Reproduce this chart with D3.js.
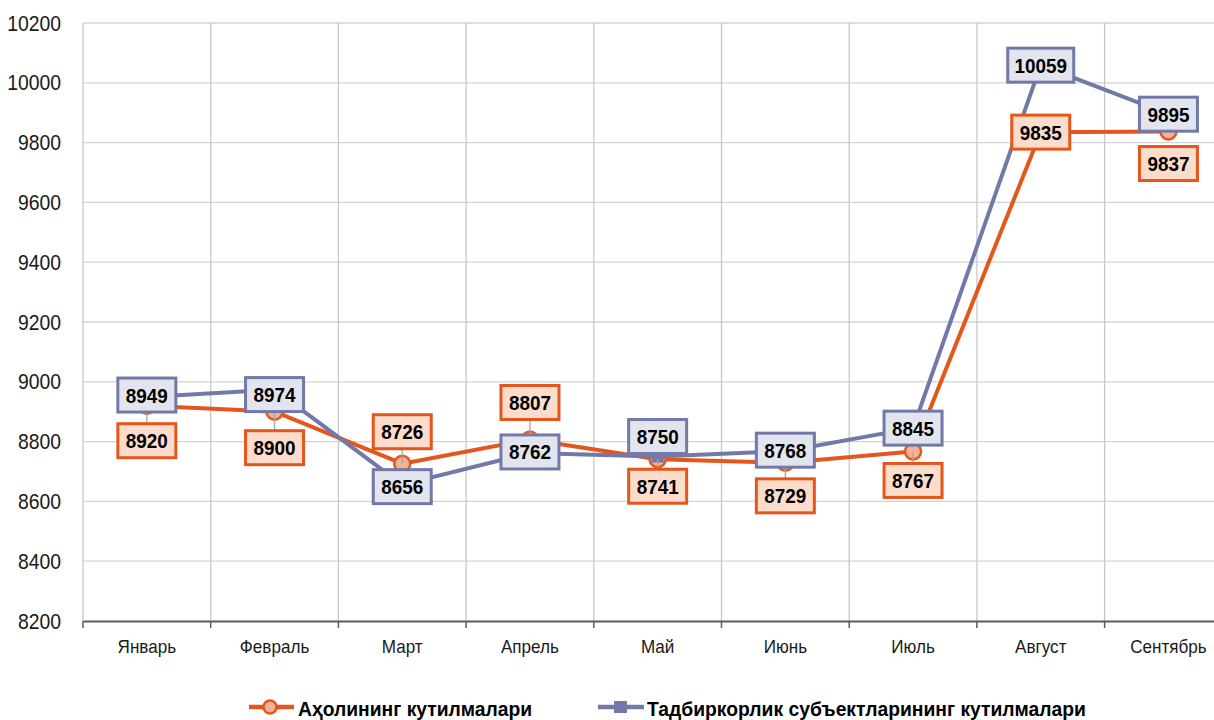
<!DOCTYPE html>
<html>
<head>
<meta charset="utf-8">
<script src="https://cdn.jsdelivr.net/npm/d3@7/dist/d3.min.js"></script>
<style>
  html, body { margin: 0; padding: 0; background: #fff; }
  svg { display: block; font-family: "Liberation Sans", Arial, sans-serif; }
</style>
</head>
<body>
<svg id="chart" width="1214" height="720"></svg>
<script>
// Months shown on the category axis
const months = ["Январь", "Февраль", "Март", "Апрель", "Май", "Июнь", "Июль", "Август", "Сентябрь"];
// Population expectations
const population = [8920, 8900, 8726, 8807, 8741, 8729, 8767, 9835, 9837];
// Business entities expectations
const business = [8949, 8974, 8656, 8762, 8750, 8768, 8845, 10059, 9895];
// Value axis ticks
const yTicks = [8200, 8400, 8600, 8800, 9000, 9200, 9400, 9600, 9800, 10000, 10200];
// Series names
const seriesNames = ["Аҳолининг кутилмалари", "Тадбиркорлик субъектларининг кутилмалари"];

// Vertical offsets (px) of the value labels from their points
const popLabelDy = [35, 36, -32, -37, 27, 33, 29, 0, 32];
const bizLabelDy = [-2, 5, 2, -1, -20, -1, 0, 0, 0];

const ORANGE = "#E5561C", ORANGE_FILL = "#FCDCCB", ORANGE_MARK = "#F5B396";
const BLUE = "#7279A8", BLUE_FILL = "#E3E5EE";

const svg = d3.select("#chart");
const plotL = 83, plotT = 23, plotB = 621, catW = 127.7;
const plotR = plotL + months.length * catW;

const x = d3.scaleBand().domain(months).range([plotL, plotR]).padding(0);
const cx = m => x(m) + x.bandwidth() / 2;
const y = d3.scaleLinear().domain([8200, 10200]).range([plotB, plotT]);

// horizontally condensed text helper
function squeeze(sel, k) {
  sel.each(function () {
    const t = d3.select(this);
    const tx = +t.attr("x") || 0, ty = +t.attr("y") || 0;
    t.attr("transform", `translate(${tx},${ty}) scale(${k},1) translate(${-tx},${-ty})`);
  });
}

// horizontal gridlines
svg.append("g").selectAll("line").data(yTicks.filter(v => v > 8200)).join("line")
  .attr("x1", plotL).attr("x2", plotR)
  .attr("y1", d => y(d)).attr("y2", d => y(d))
  .attr("stroke", "#D4D4D4").attr("stroke-width", 1.3);

// vertical gridlines at category boundaries
const bounds = months.map(m => x(m)).concat([plotR]);
svg.append("g").selectAll("line").data(bounds).join("line")
  .attr("x1", d => d).attr("x2", d => d)
  .attr("y1", plotT).attr("y2", plotB)
  .attr("stroke", "#C8C8C8").attr("stroke-width", 1.3);

// category axis
const xAxis = svg.append("g").attr("transform", `translate(0,${plotB})`)
  .call(d3.axisBottom(x).tickSize(0).tickPadding(19));
xAxis.select(".domain").attr("stroke", "#5A5A64").attr("stroke-width", 2);
const xt = xAxis.selectAll("text").attr("font-size", 18).attr("fill", "#1a1a1a")
  .attr("font-family", "'Liberation Sans', Arial, sans-serif");
squeeze(xt, 0.95);
svg.append("g").selectAll("line").data(bounds).join("line")
  .attr("x1", d => d).attr("x2", d => d)
  .attr("y1", plotB).attr("y2", plotB + 7)
  .attr("stroke", "#5A5A64").attr("stroke-width", 1.5);

// value axis labels
const yAxis = svg.append("g").attr("transform", `translate(${plotL},0)`)
  .call(d3.axisLeft(y).tickValues(yTicks).tickSize(0).tickPadding(22).tickFormat(d3.format("d")));
yAxis.select(".domain").remove();
const yt = yAxis.selectAll("text").attr("font-size", 22).attr("fill", "#1a1a1a")
  .attr("font-family", "'Liberation Sans', Arial, sans-serif");
squeeze(yt, 0.88);

const line = d3.line().x((d, i) => cx(months[i])).y(d => y(d));

// population series
svg.append("path").datum(population).attr("d", line)
  .attr("fill", "none").attr("stroke", ORANGE).attr("stroke-width", 4).attr("stroke-linejoin", "round");
svg.append("g").selectAll("circle").data(population).join("circle")
  .attr("cx", (d, i) => cx(months[i])).attr("cy", d => y(d)).attr("r", 8)
  .attr("fill", ORANGE_MARK).attr("stroke", ORANGE).attr("stroke-width", 2.5);

// business series
svg.append("path").datum(business).attr("d", line)
  .attr("fill", "none").attr("stroke", BLUE).attr("stroke-width", 4).attr("stroke-linejoin", "round");
svg.append("g").selectAll("rect").data(business).join("rect")
  .attr("x", (d, i) => cx(months[i]) - 6).attr("y", d => y(d) - 6)
  .attr("width", 12).attr("height", 12).attr("fill", BLUE);

// data labels
const boxH = 34;
function boxW(v) { return String(v).length > 4 ? 66 : 58; }

// leader lines for offset labels
function leaders(values, dys) {
  svg.append("g").selectAll("line").data(values).join("line")
    .filter((d, i) => Math.abs(dys[i]) > boxH / 2)
    .attr("x1", (d, i) => cx(months[i])).attr("x2", (d, i) => cx(months[i]))
    .attr("y1", d => y(d))
    .attr("y2", (d, i) => y(d) + dys[i])
    .attr("stroke", "#A6A6A6").attr("stroke-width", 1.3);
}
leaders(population, popLabelDy);
leaders(business, bizLabelDy);

function drawLabels(values, dys, stroke, fill) {
  const g = svg.append("g").selectAll("g").data(values).join("g")
    .attr("transform", (d, i) => `translate(${cx(months[i])},${y(d) + dys[i]})`);
  g.append("rect")
    .attr("x", d => -boxW(d) / 2).attr("y", -boxH / 2)
    .attr("width", d => boxW(d)).attr("height", boxH)
    .attr("fill", fill).attr("stroke", stroke).attr("stroke-width", 3);
  const t = g.append("text").attr("x", 0).attr("y", 7.5)
    .attr("text-anchor", "middle").attr("font-size", 21).attr("font-weight", "bold")
    .attr("fill", "#000").text(d => d);
  squeeze(t, 0.9);
}
drawLabels(population, popLabelDy, ORANGE, ORANGE_FILL);
drawLabels(business, bizLabelDy, BLUE, BLUE_FILL);

// legend
const ly = 707;
const leg = svg.append("g");
leg.append("line").attr("x1", 249).attr("x2", 294).attr("y1", ly).attr("y2", ly)
  .attr("stroke", ORANGE).attr("stroke-width", 4.5);
leg.append("circle").attr("cx", 270).attr("cy", ly).attr("r", 6.5)
  .attr("fill", ORANGE_MARK).attr("stroke", ORANGE).attr("stroke-width", 2.5);
const t1 = leg.append("text").attr("x", 298).attr("y", 716)
  .attr("font-size", 19.5).attr("font-weight", "bold").attr("fill", "#000").text(seriesNames[0]);
leg.append("line").attr("x1", 598).attr("x2", 644).attr("y1", ly).attr("y2", ly)
  .attr("stroke", BLUE).attr("stroke-width", 4.5);
leg.append("rect").attr("x", 614).attr("y", ly - 6).attr("width", 13).attr("height", 12).attr("fill", BLUE);
const t2 = leg.append("text").attr("x", 647).attr("y", 716)
  .attr("font-size", 19.5).attr("font-weight", "bold").attr("fill", "#000").text(seriesNames[1]);
squeeze(t1, 0.99);
squeeze(t2, 0.99);
</script>
</body>
</html>
